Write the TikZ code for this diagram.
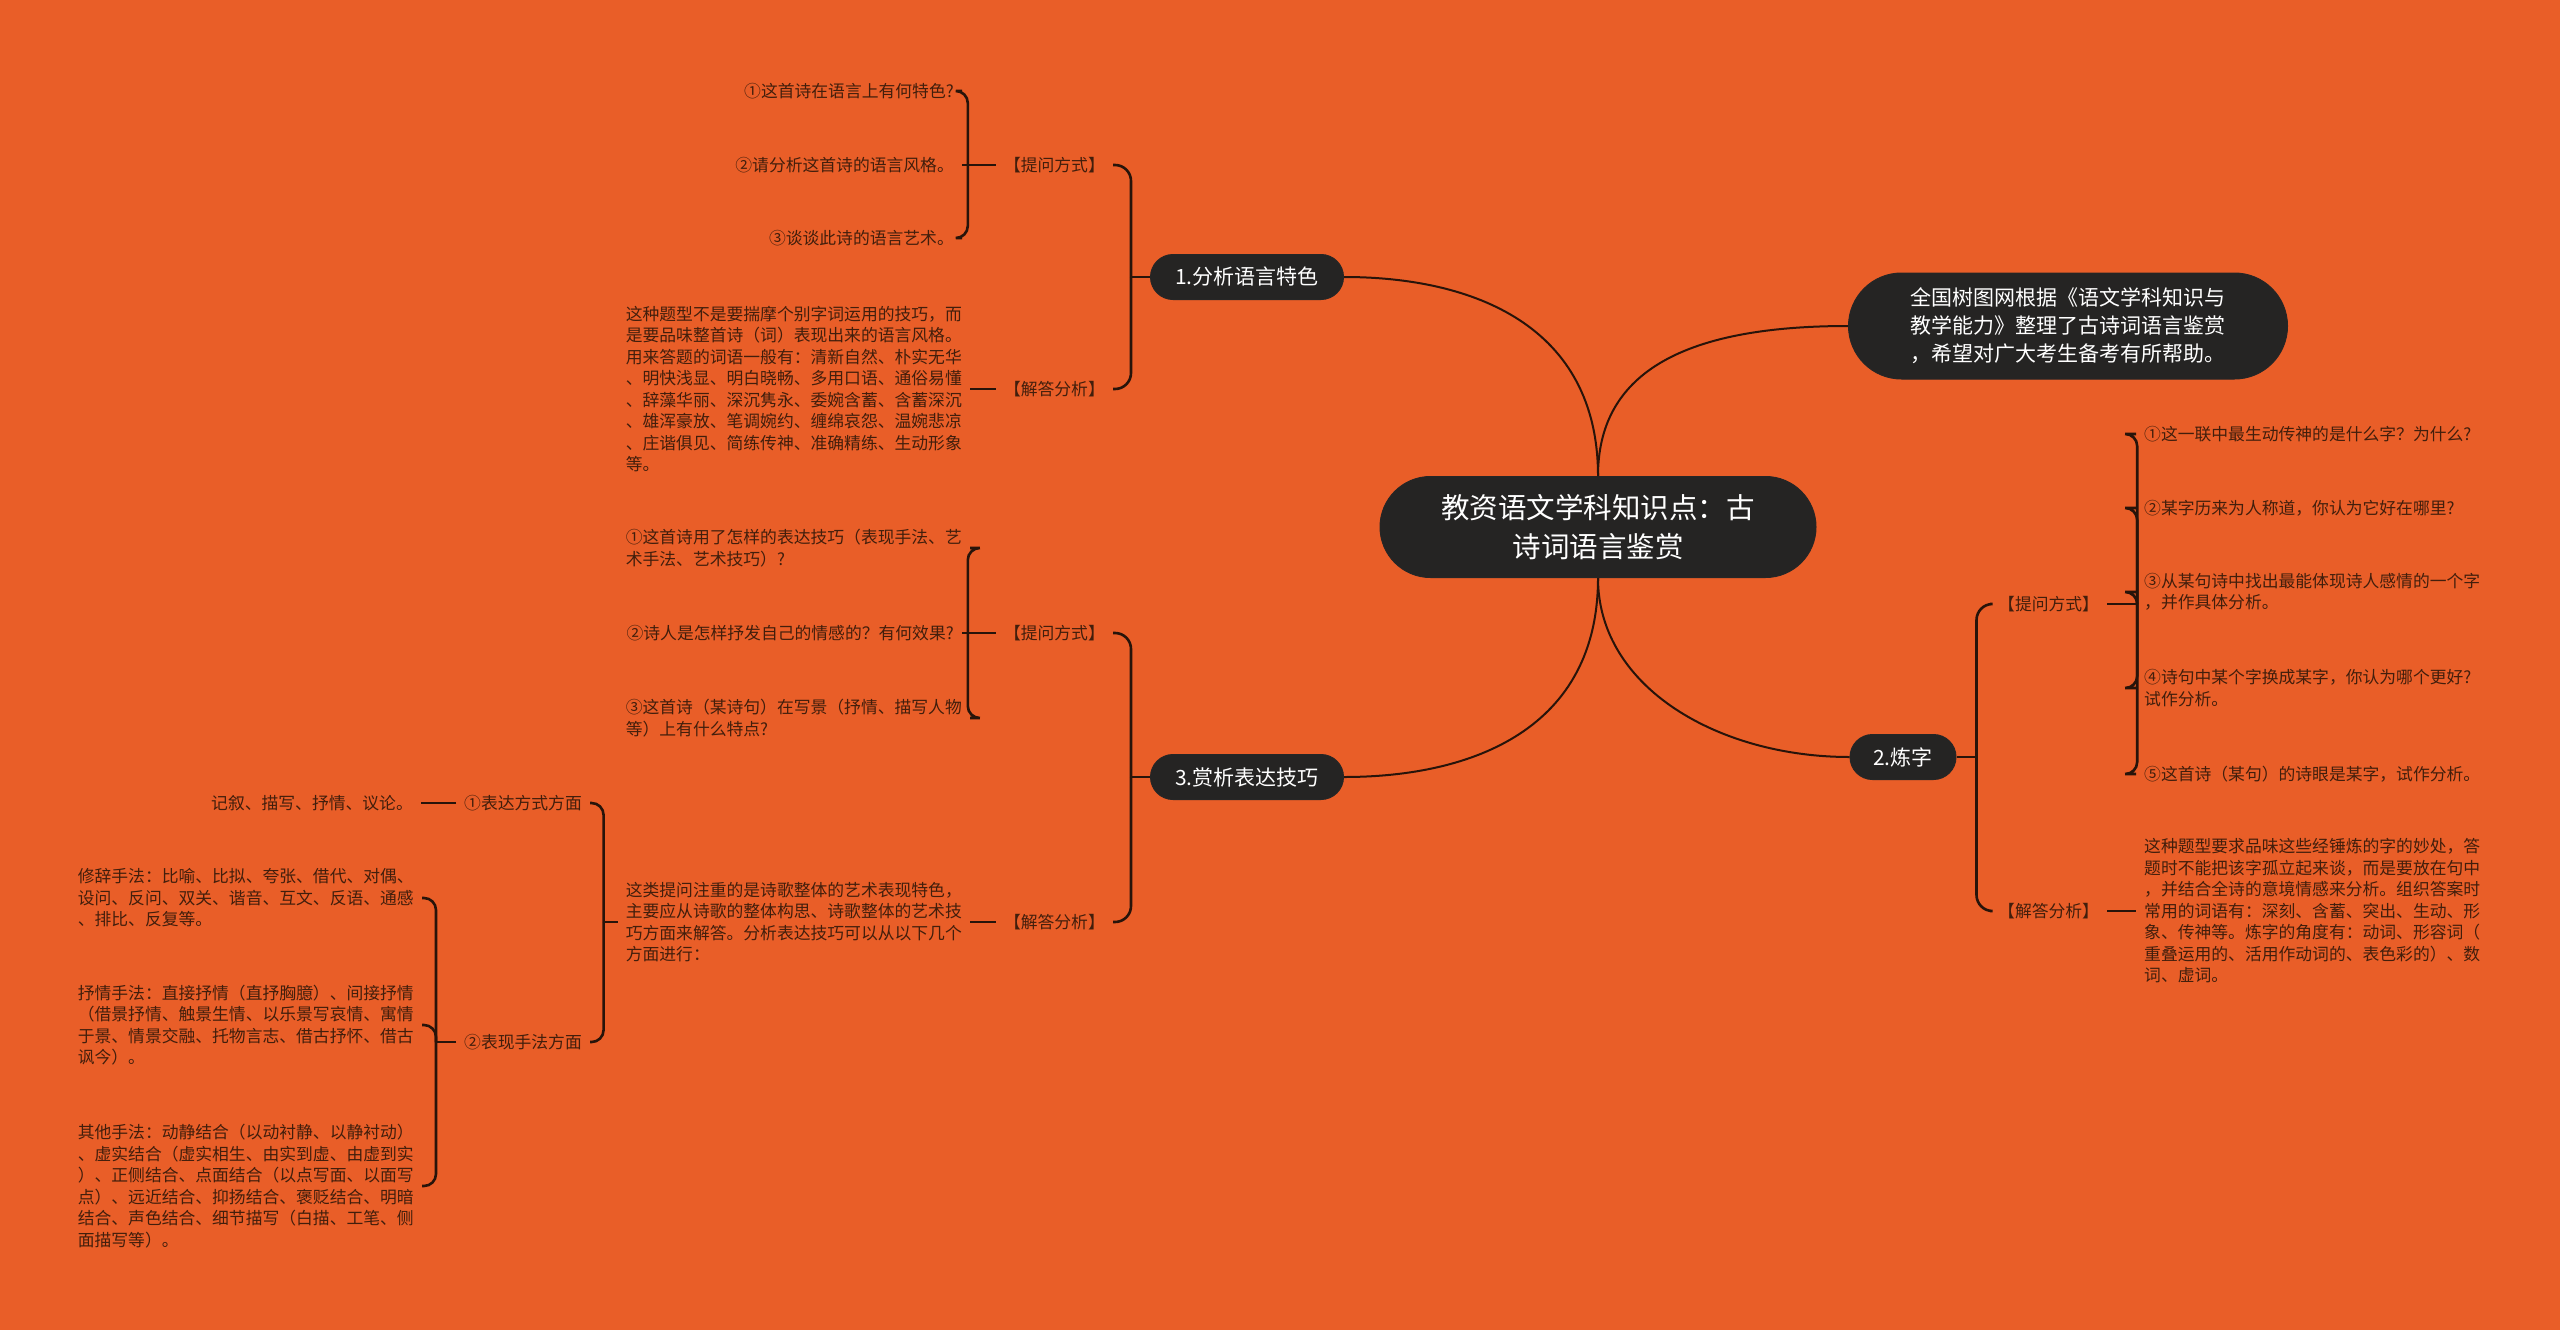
\documentclass[tikz,border=0pt]{standalone}
\usepackage{fontspec}
\setmainfont{Noto Sans CJK SC}
\usetikzlibrary{shapes.misc}
\definecolor{bgor}{RGB}{233,94,40}
\definecolor{nodefill}{RGB}{37,36,35}
\definecolor{linec}{RGB}{40,20,10}
\definecolor{txtc}{RGB}{66,30,12}
\begin{document}
\begin{tikzpicture}[x=1pt,y=-1pt,
  topic/.style={rounded rectangle, fill=nodefill, draw=black!85, line width=1pt, text=white, align=center, inner sep=0pt},
  txt/.style={font=\fontsize{16.8}{21.5}\selectfont, text=txtc, align=left, inner xsep=8pt, inner ysep=0pt},
  mainconn/.style={draw=linec, line width=2pt},
  brk/.style={draw=linec, line width=2.6pt, rounded corners=12pt},
  brkb/.style={draw=linec, line width=2.6pt, rounded corners=16pt},
]
\fill[bgor] (0,0) rectangle (2560,1330);
\useasboundingbox (0,0) rectangle (2560,1330);

% main topics
\node[topic, minimum width=436pt, minimum height=101pt, font=\fontsize{28.5}{39}\selectfont] (c) at (1598,527) {教资语文学科知识点：古\\诗词语言鉴赏};
\node[topic, minimum width=193pt, minimum height=45pt, font=\fontsize{21}{26}\selectfont] (n1) at (1247,277) {1.分析语言特色};
\node[topic, minimum width=193pt, minimum height=45pt, font=\fontsize{21}{26}\selectfont] (n3) at (1247,777) {3.赏析表达技巧};
\node[topic, minimum width=106pt, minimum height=45pt, font=\fontsize{21}{26}\selectfont] (n2) at (1903,757) {2.炼字};
\node[topic, minimum width=439pt, minimum height=106pt, font=\fontsize{21}{28}\selectfont] (intro) at (2068,326) {全国树图网根据《语文学科知识与\\教学能力》整理了古诗词语言鉴赏\\，希望对广大考生备考有所帮助。};

\draw[mainconn] (c.north) .. controls +(0,-150) and +(130,0) .. (n1.east);
\draw[mainconn] (c.north) .. controls +(0,-100) and +(-170,0) .. (intro.west);
\draw[mainconn] (c.south) .. controls +(0,150) and +(130,0) .. (n3.east);
\draw[mainconn] (c.south) .. controls +(0,110) and +(-130,0) .. (n2.west);

% branch 1
\node[txt, anchor=east] (l1ask) at (1113,165) {【提问方式】};
\node[txt, anchor=east] (l1ans) at (1113,389) {【解答分析】};
\node[txt, anchor=east] (l1q1) at (962,91) {①这首诗在语言上有何特色?};
\node[txt, anchor=east] (l1q2) at (962,165) {②请分析这首诗的语言风格。};
\node[txt, anchor=east] (l1q3) at (962,238) {③谈谈此诗的语言艺术。};
\node[txt, anchor=east] (l1para) at (970,389) {这种题型不是要揣摩个别字词运用的技巧，而\\是要品味整首诗（词）表现出来的语言风格。\\用来答题的词语一般有：清新自然、朴实无华\\、明快浅显、明白晓畅、多用口语、通俗易懂\\、辞藻华丽、深沉隽永、委婉含蓄、含蓄深沉\\、雄浑豪放、笔调婉约、缠绵哀怨、温婉悲凉\\、庄谐俱见、简练传神、准确精练、生动形象\\等。};

\coordinate (j1) at ([xshift=-19pt]n1.west);
\draw[brkb] (n1.west) -- (j1);
\draw[brkb] (j1) |- (l1ask.east);
\draw[brkb] (j1) |- (l1ans.east);
\coordinate (ja1) at ([xshift=-28pt]l1ask.west);
\draw[brk] (l1ask.west) -- (ja1);
\draw[brk] (ja1) |- (l1q1.east);
\draw[brk] (ja1) -- (l1q2.east);
\draw[brk] (ja1) |- (l1q3.east);
\draw[brk] (l1ans.west) -- (l1para.east);

% branch 3
\node[txt, anchor=east] (l3ask) at (1113,633) {【提问方式】};
\node[txt, anchor=east] (l3ans) at (1113,922) {【解答分析】};
\node[txt, anchor=east] (l3q1) at (970,548) {①这首诗用了怎样的表达技巧（表现手法、艺\\术手法、艺术技巧）?};
\node[txt, anchor=east] (l3q2) at (962,633) {②诗人是怎样抒发自己的情感的？有何效果?};
\node[txt, anchor=east] (l3q3) at (970,718) {③这首诗（某诗句）在写景（抒情、描写人物\\等）上有什么特点?};
\node[txt, anchor=east] (l3para) at (970,922) {这类提问注重的是诗歌整体的艺术表现特色，\\主要应从诗歌的整体构思、诗歌整体的艺术技\\巧方面来解答。分析表达技巧可以从以下几个\\方面进行：};
\node[txt, anchor=east] (l3a) at (590,803) {①表达方式方面};
\node[txt, anchor=east] (l3b) at (590,1042) {②表现手法方面};
\node[txt, anchor=east] (l3a1) at (421,803) {记叙、描写、抒情、议论。};
\node[txt, anchor=east] (l3b1) at (422,898) {修辞手法：比喻、比拟、夸张、借代、对偶、\\设问、反问、双关、谐音、互文、反语、通感\\、排比、反复等。};
\node[txt, anchor=east] (l3b2) at (422,1025) {抒情手法：直接抒情（直抒胸臆）、间接抒情\\（借景抒情、触景生情、以乐景写哀情、寓情\\于景、情景交融、托物言志、借古抒怀、借古\\讽今）。};
\node[txt, anchor=east] (l3b3) at (422,1186) {其他手法：动静结合（以动衬静、以静衬动）\\、虚实结合（虚实相生、由实到虚、由虚到实\\）、正侧结合、点面结合（以点写面、以面写\\点）、远近结合、抑扬结合、褒贬结合、明暗\\结合、声色结合、细节描写（白描、工笔、侧\\面描写等）。};

\coordinate (j3) at ([xshift=-19pt]n3.west);
\draw[brkb] (n3.west) -- (j3);
\draw[brkb] (j3) |- (l3ask.east);
\draw[brkb] (j3) |- (l3ans.east);
\coordinate (ja3) at ([xshift=-28pt]l3ask.west);
\draw[brk] (l3ask.west) -- (ja3);
\draw[brk] (ja3) |- (l3q1.east);
\draw[brk] (ja3) -- (l3q2.east);
\draw[brk] (ja3) |- (l3q3.east);
\draw[brk] (l3ans.west) -- (l3para.east);
\coordinate (jp) at ([xshift=-14pt]l3para.west);
\draw[brk] (l3para.west) -- (jp);
\draw[brk] (jp) |- (l3a.east);
\draw[brk] (jp) |- (l3b.east);
\draw[brk] (l3a.west) -- (l3a1.east);
\coordinate (jb) at ([xshift=-20pt]l3b.west);
\draw[brk] (l3b.west) -- (jb);
\draw[brk] (jb) |- (l3b1.east);
\draw[brk] (jb) |- (l3b2.east);
\draw[brk] (jb) |- (l3b3.east);

% branch 2
\node[txt, anchor=west] (rask) at (1990,604) {【提问方式】};
\node[txt, anchor=west] (rans) at (1990,911) {【解答分析】};
\node[txt, anchor=west] (rq1) at (2136,434) {①这一联中最生动传神的是什么字？为什么?};
\node[txt, anchor=west] (rq2) at (2136,508) {②某字历来为人称道，你认为它好在哪里?};
\node[txt, anchor=west] (rq3) at (2136,592) {③从某句诗中找出最能体现诗人感情的一个字\\，并作具体分析。};
\node[txt, anchor=west] (rq4) at (2136,688) {④诗句中某个字换成某字，你认为哪个更好?\\试作分析。};
\node[txt, anchor=west] (rq5) at (2136,774) {⑤这首诗（某句）的诗眼是某字，试作分析。};
\node[txt, anchor=west] (rpara) at (2136,911) {这种题型要求品味这些经锤炼的字的妙处，答\\题时不能把该字孤立起来谈，而是要放在句中\\，并结合全诗的意境情感来分析。组织答案时\\常用的词语有：深刻、含蓄、突出、生动、形\\象、传神等。炼字的角度有：动词、形容词（\\重叠运用的、活用作动词的、表色彩的）、数\\词、虚词。};

\coordinate (j2) at ([xshift=20pt]n2.east);
\draw[brkb] (n2.east) -- (j2);
\draw[brkb] (j2) |- (rask.west);
\draw[brkb] (j2) |- (rans.west);
\coordinate (jr) at ([xshift=30pt]rask.east);
\draw[brk] (rask.east) -- (jr);
\draw[brk] (jr) |- (rq1.west);
\draw[brk] (jr) |- (rq2.west);
\draw[brk] (jr) |- (rq3.west);
\draw[brk] (jr) |- (rq4.west);
\draw[brk] (jr) |- (rq5.west);
\draw[brk] (rans.east) -- (rpara.west);
\end{tikzpicture}
\end{document}
